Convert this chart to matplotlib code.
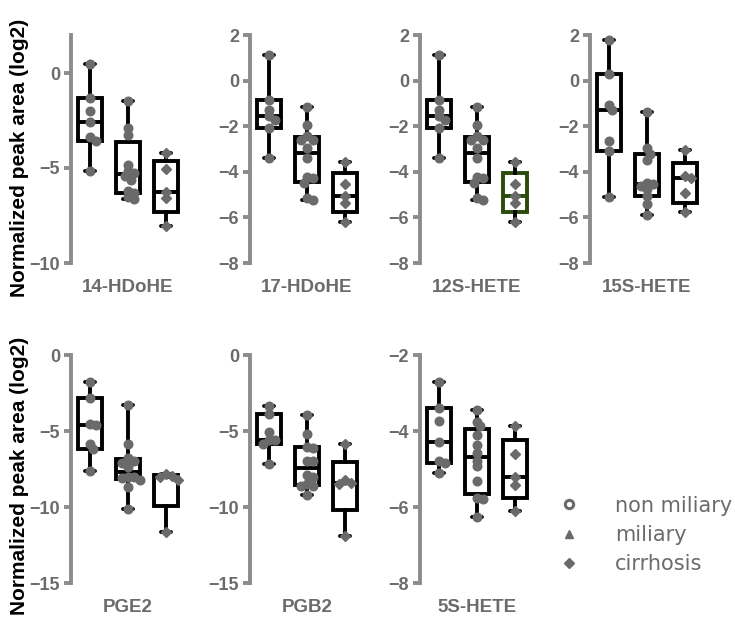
import numpy as np
import matplotlib
matplotlib.use('Agg')
import matplotlib.pyplot as plt
from matplotlib.lines import Line2D

# ---------------- data ----------------
groups = ['non miliary', 'miliary', 'cirrhosis']
panel_names = ['14-HDoHE', '17-HDoHE', '12S-HETE', '15S-HETE', 'PGE2', 'PGB2', '5S-HETE']

hdohe14_non = [0.48, -1.32, -1.98, -2.56, -3.35, -3.56, -5.15]
hdohe14_mil = [-1.46, -2.88, -3.26, -4.83, -5.15, -5.25, -5.43, -5.61, -6.23, -6.32, -6.55, -6.61]
hdohe14_cir = [-4.23, -5.03, -6.26, -6.58, -8.06]

hdohe17_non = [1.13, -0.85, -1.30, -1.55, -1.72, -2.08, -3.41]
hdohe17_mil = [-1.14, -1.95, -2.42, -2.60, -2.62, -2.95, -3.38, -4.24, -4.28, -4.48, -5.17, -5.24]
hdohe17_cir = [-3.56, -4.55, -5.07, -5.36, -6.19]

hete12_non = [1.13, -0.85, -1.30, -1.55, -1.72, -2.08, -3.41]
hete12_mil = [-1.14, -1.95, -2.42, -2.60, -2.62, -2.95, -3.38, -4.24, -4.28, -4.48, -5.17, -5.24]
hete12_cir = [-3.56, -4.55, -5.07, -5.36, -6.19]

hete15_non = [1.80, 0.30, -1.08, -1.30, -2.65, -3.07, -5.10]
hete15_mil = [-1.38, -2.97, -3.20, -3.50, -4.50, -4.55, -4.62, -4.75, -5.08, -5.43, -5.89]
hete15_cir = [-3.03, -4.20, -4.25, -4.95, -5.77]

pge2_non = [-1.76, -2.81, -4.55, -4.60, -5.87, -6.20, -7.65]
pge2_mil = [-3.30, -5.85, -6.80, -7.00, -7.10, -7.35, -8.00, -8.05, -8.10, -8.20, -8.68, -10.10]
pge2_cir = [-7.85, -7.95, -8.00, -8.20, -11.65]

pgb2_non = [-3.36, -3.87, -5.05, -5.56, -5.60, -5.84, -7.20]
pgb2_mil = [-3.95, -5.23, -6.06, -6.15, -6.95, -7.00, -7.90, -8.04, -8.50, -8.60, -8.65, -9.22]
pgb2_cir = [-5.84, -8.20, -8.45, -8.50, -11.93]

hete5_non = [-2.70, -3.40, -3.73, -4.30, -4.80, -4.85, -5.11]
hete5_mil = [-3.44, -3.75, -3.88, -4.10, -4.36, -4.58, -4.78, -4.93, -5.31, -5.76, -5.78, -6.26]
hete5_cir = [-3.86, -4.60, -5.22, -5.42, -6.10]

panel_data = [
    [hdohe14_non, hdohe14_mil, hdohe14_cir],
    [hdohe17_non, hdohe17_mil, hdohe17_cir],
    [hete12_non, hete12_mil, hete12_cir],
    [hete15_non, hete15_mil, hete15_cir],
    [pge2_non, pge2_mil, pge2_cir],
    [pgb2_non, pgb2_mil, pgb2_cir],
    [hete5_non, hete5_mil, hete5_cir],
]
panel_ylim = [(-10, 2), (-8, 2), (-8, 2), (-8, 2), (-15, 0), (-15, 0), (-8, -2)]
panel_yticks = [[-10, -5, 0], [-8, -6, -4, -2, 0, 2], [-8, -6, -4, -2, 0, 2],
                [-8, -6, -4, -2, 0, 2], [-15, -10, -5, 0], [-15, -10, -5, 0],
                [-8, -6, -4, -2]]

# ---------------- style ----------------
W, H = 735, 621
GRAY_SPINE = '#8c8c8c'
GRAY_TXT = '#6b6b6b'
DOT = '#6a6a6a'
GREEN = '#2b4a0b'
LW = 2.8

plt.rcParams['font.family'] = ['Liberation Sans', 'DejaVu Sans']

fig = plt.figure(figsize=(W / 100, H / 100), dpi=100)

lefts = [71, 250, 420, 590, 71, 250, 420]
tops = [35, 35, 35, 35, 355, 355, 355]
AX_W, AX_H = 114, 228


def swarm(ax, xc, vals, diam, step):
    tr = ax.transData
    x0 = tr.transform((0, 0))[0]
    xpu = tr.transform((1, 0))[0] - x0
    ypix = np.array([tr.transform((xc, v))[1] for v in vals])
    placed = []
    offs = np.zeros(len(vals))
    for i in np.argsort(-ypix):
        y = ypix[i]
        chosen = 0.0
        for k in range(0, 30):
            cands = [0.0] if k == 0 else [k * step, -k * step]
            ok = None
            for c in cands:
                if all((c - px) ** 2 + (y - py) ** 2 >= diam ** 2 for px, py in placed):
                    ok = c
                    break
            if ok is not None:
                chosen = ok
                break
        placed.append((chosen, y))
        offs[i] = chosen / xpu
    return offs


for p, (name, data) in enumerate(zip(panel_names, panel_data)):
    l, t = lefts[p], tops[p]
    ax = fig.add_axes([l / W, (H - t - AX_H) / H, AX_W / W, AX_H / H])
    ax.set_xlim(-0.5, 2.5)
    ax.set_ylim(*panel_ylim[p])
    for s in ['top', 'right', 'bottom']:
        ax.spines[s].set_visible(False)
    ax.spines['left'].set_color(GRAY_SPINE)
    ax.spines['left'].set_linewidth(LW)
    ax.set_facecolor('none')

    stats = []
    for g, vals in enumerate(data):
        v = np.asarray(vals)
        q1, med, q3 = np.percentile(v, [25, 50, 75], method='weibull')
        stats.append(dict(med=med, q1=q1, q3=q3, whislo=v.min(), whishi=v.max(),
                          fliers=[], label=groups[g]))
    for g, st in enumerate(stats):
        col = GREEN if (p == 2 and g == 2) else 'black'
        ax.bxp([st], positions=[g], widths=0.64, capwidths=0.24, showfliers=False,
               patch_artist=True, manage_ticks=False,
               boxprops=dict(facecolor='white', edgecolor=col, linewidth=LW),
               medianprops=dict(color=col, linewidth=LW),
               whiskerprops=dict(color='black', linewidth=LW),
               capprops=dict(color='black', linewidth=LW, solid_capstyle='round'),
               zorder=2)
    ax.set_xlim(-0.5, 2.5)
    ax.set_xticks([])
    ax.set_yticks(panel_yticks[p])
    ax.tick_params(axis='y', colors=GRAY_SPINE, length=5, width=LW, pad=3,
                   labelcolor=GRAY_TXT, labelsize=13)
    for lab in ax.get_yticklabels():
        lab.set_fontweight('bold')

    for g, vals in enumerate(data):
        offs = swarm(ax, g, vals, diam=5.5, step=3.0)
        marker = 'D' if g == 2 else 'o'
        ms = 5.4 if g == 2 else 6.2
        ax.plot(np.full(len(vals), g) + offs, vals, ls='none', marker=marker,
                ms=ms, color=DOT, mec=DOT, zorder=4)
    ax.annotate(name, xy=(0.5, 0), xycoords='axes fraction', xytext=(0, -18),
                textcoords='offset points', ha='center', va='center',
                fontsize=13.5, fontweight='bold', color=GRAY_TXT)

# y labels
for cy in [158, 476]:
    fig.text(20 / W, 1 - cy / H, 'Normalized peak area (log2)', rotation=90,
             ha='center', va='center', fontsize=15, fontweight='bold', color='black')

# legend
handles = [
    Line2D([], [], ls='none', marker='o', ms=6, mfc='white', mec=DOT, mew=2.2),
    Line2D([], [], ls='none', marker='^', ms=6, color=DOT),
    Line2D([], [], ls='none', marker='D', ms=5, color=DOT),
]
leg = fig.legend(handles, groups, loc='center left',
                 bbox_to_anchor=(540 / W, 1 - 535 / H), frameon=False,
                 prop=dict(family='DejaVu Sans', size=15), labelspacing=0.45,
                 handletextpad=1.7, handlelength=1.0)
for txt in leg.get_texts():
    txt.set_color(GRAY_TXT)

fig.savefig('out.png', dpi=100)
